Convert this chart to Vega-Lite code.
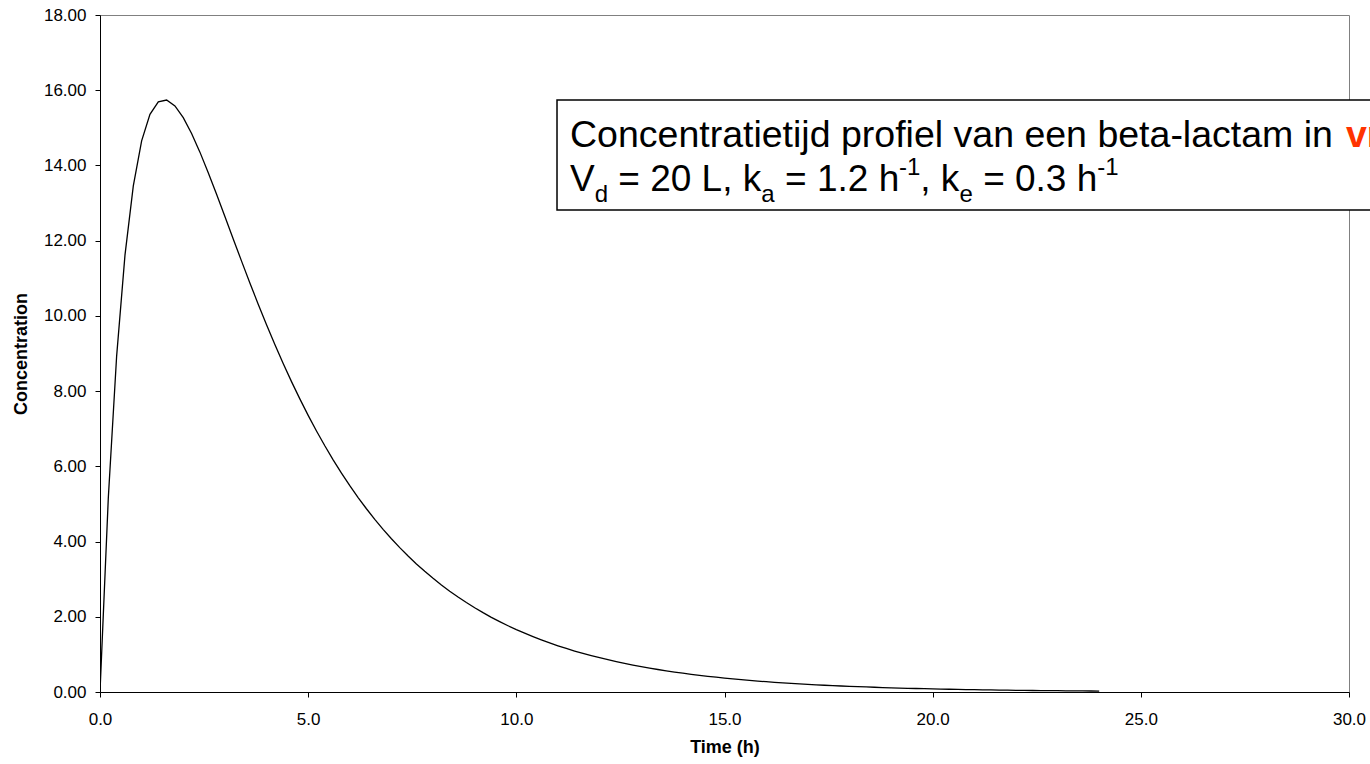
{
  "$schema": "https://vega.github.io/schema/vega-lite/v6.json",
  "width": 1249,
  "height": 677,
  "autosize": {"type": "none"},
  "padding": {"left": 100, "top": 15, "right": 21, "bottom": 72},
  "background": "white",
  "config": {
    "view": {"stroke": "#808080", "strokeWidth": 1},
    "font": "Liberation Sans",
    "axis": {
      "grid": false,
      "domainColor": "#000000",
      "domainWidth": 1,
      "tickColor": "#000000",
      "tickSize": 5,
      "labelColor": "#000000",
      "labelFont": "Liberation Sans",
      "labelFontSize": 17,
      "titleFont": "Liberation Sans",
      "titleFontSize": 18,
      "titleFontWeight": "bold",
      "titleColor": "#000000"
    }
  },
  "datasets": {
    "curve": [
      {"t": 0.0, "c": 0.0}, {"t": 0.2, "c": 5.171}, {"t": 0.4, "c": 8.938}, {"t": 0.6, "c": 11.617},
      {"t": 0.8, "c": 13.458}, {"t": 1.0, "c": 14.654}, {"t": 1.2, "c": 15.358}, {"t": 1.4, "c": 15.689},
      {"t": 1.6, "c": 15.739}, {"t": 1.8, "c": 15.581}, {"t": 2.0, "c": 15.270}, {"t": 2.2, "c": 14.850},
      {"t": 2.4, "c": 14.354}, {"t": 2.6, "c": 13.808}, {"t": 2.8, "c": 13.233}, {"t": 3.0, "c": 12.642},
      {"t": 3.2, "c": 12.047}, {"t": 3.4, "c": 11.456}, {"t": 3.6, "c": 10.877}, {"t": 3.8, "c": 10.312},
      {"t": 4.0, "c": 9.765}, {"t": 4.2, "c": 9.239}, {"t": 4.4, "c": 8.735}, {"t": 4.6, "c": 8.252},
      {"t": 4.8, "c": 7.793}, {"t": 5.0, "c": 7.355}, {"t": 5.2, "c": 6.940}, {"t": 5.4, "c": 6.546},
      {"t": 5.6, "c": 6.172}, {"t": 5.8, "c": 5.819}, {"t": 6.0, "c": 5.485}, {"t": 6.2, "c": 5.170},
      {"t": 6.4, "c": 4.872}, {"t": 6.6, "c": 4.590}, {"t": 6.8, "c": 4.325}, {"t": 7.0, "c": 4.074},
      {"t": 7.2, "c": 3.838}, {"t": 7.4, "c": 3.616}, {"t": 7.6, "c": 3.406}, {"t": 7.8, "c": 3.208},
      {"t": 8.0, "c": 3.022}, {"t": 8.2, "c": 2.846}, {"t": 8.4, "c": 2.681}, {"t": 8.6, "c": 2.525},
      {"t": 8.8, "c": 2.378}, {"t": 9.0, "c": 2.240}, {"t": 9.2, "c": 2.109}, {"t": 9.4, "c": 1.986},
      {"t": 9.6, "c": 1.871}, {"t": 9.8, "c": 1.762}, {"t": 10.0, "c": 1.659}, {"t": 10.2, "c": 1.563},
      {"t": 10.4, "c": 1.472}, {"t": 10.6, "c": 1.386}, {"t": 10.8, "c": 1.305}, {"t": 11.0, "c": 1.229},
      {"t": 11.2, "c": 1.158}, {"t": 11.4, "c": 1.090}, {"t": 11.6, "c": 1.027}, {"t": 11.8, "c": 0.967},
      {"t": 12.0, "c": 0.911}, {"t": 12.2, "c": 0.858}, {"t": 12.4, "c": 0.808}, {"t": 12.6, "c": 0.761},
      {"t": 12.8, "c": 0.716}, {"t": 13.0, "c": 0.675}, {"t": 13.2, "c": 0.635}, {"t": 13.4, "c": 0.598},
      {"t": 13.6, "c": 0.564}, {"t": 13.8, "c": 0.531}, {"t": 14.0, "c": 0.500}, {"t": 14.2, "c": 0.471},
      {"t": 14.4, "c": 0.443}, {"t": 14.6, "c": 0.418}, {"t": 14.8, "c": 0.393}, {"t": 15.0, "c": 0.370},
      {"t": 15.2, "c": 0.349}, {"t": 15.4, "c": 0.328}, {"t": 15.6, "c": 0.309}, {"t": 15.8, "c": 0.291},
      {"t": 16.0, "c": 0.274}, {"t": 16.2, "c": 0.258}, {"t": 16.4, "c": 0.243}, {"t": 16.6, "c": 0.229},
      {"t": 16.8, "c": 0.216}, {"t": 17.0, "c": 0.203}, {"t": 17.2, "c": 0.191}, {"t": 17.4, "c": 0.180},
      {"t": 17.6, "c": 0.170}, {"t": 17.8, "c": 0.160}, {"t": 18.0, "c": 0.151}, {"t": 18.2, "c": 0.142},
      {"t": 18.4, "c": 0.134}, {"t": 18.6, "c": 0.126}, {"t": 18.8, "c": 0.118}, {"t": 19.0, "c": 0.112},
      {"t": 19.2, "c": 0.105}, {"t": 19.4, "c": 0.099}, {"t": 19.6, "c": 0.093}, {"t": 19.8, "c": 0.088},
      {"t": 20.0, "c": 0.083}, {"t": 20.2, "c": 0.078}, {"t": 20.4, "c": 0.073}, {"t": 20.6, "c": 0.069},
      {"t": 20.8, "c": 0.065}, {"t": 21.0, "c": 0.061}, {"t": 21.2, "c": 0.058}, {"t": 21.4, "c": 0.054},
      {"t": 21.6, "c": 0.051}, {"t": 21.8, "c": 0.048}, {"t": 22.0, "c": 0.045}, {"t": 22.2, "c": 0.043},
      {"t": 22.4, "c": 0.040}, {"t": 22.6, "c": 0.038}, {"t": 22.8, "c": 0.036}, {"t": 23.0, "c": 0.034},
      {"t": 23.2, "c": 0.032}, {"t": 23.4, "c": 0.030}, {"t": 23.6, "c": 0.028}, {"t": 23.8, "c": 0.026},
      {"t": 24.0, "c": 0.025}
    ],
    "box": [{"x": 10.977, "x2": 32.0, "y": 15.74, "y2": 12.816}],
    "label": [
      {"x": 11.289, "y": 14.49, "text": "Concentratietijd profiel van een beta-lactam in ", "role": "big"},
      {"x": 29.928, "y": 14.49, "text": "vr", "role": "red"},
      {"x": 11.289, "y": 13.32, "text": "V", "role": "main"},
      {"x": 11.882, "y": 13.028, "text": "d", "role": "small"},
      {"x": 12.449, "y": 13.32, "text": "= 20 L, k", "role": "main"},
      {"x": 15.882, "y": 13.028, "text": "a", "role": "small"},
      {"x": 16.454, "y": 13.32, "text": "= 1.2 h", "role": "main"},
      {"x": 19.192, "y": 13.746, "text": "-1", "role": "small"},
      {"x": 19.703, "y": 13.32, "text": ", k", "role": "main"},
      {"x": 20.642, "y": 13.028, "text": "e", "role": "small"},
      {"x": 21.212, "y": 13.32, "text": "= 0.3 h", "role": "main"},
      {"x": 23.954, "y": 13.746, "text": "-1", "role": "small"}
    ]
  },
  "layer": [
    {
      "data": {"name": "curve"},
      "mark": {"type": "line", "color": "#000000", "strokeWidth": 1.3, "clip": true},
      "encoding": {
        "x": {
          "field": "t", "type": "quantitative",
          "scale": {"domain": [0, 30], "nice": false, "zero": false},
          "axis": {"values": [0, 5, 10, 15, 20, 25, 30], "format": ".1f", "title": "Time (h)", "labelPadding": 14, "titlePadding": 11, "labelFlush": false, "labelOverlap": false}
        },
        "y": {
          "field": "c", "type": "quantitative",
          "scale": {"domain": [0, 18], "nice": false},
          "axis": {"values": [0, 2, 4, 6, 8, 10, 12, 14, 16, 18], "format": ".2f", "title": "Concentration", "labelPadding": 9, "titlePadding": 13, "labelFlush": false, "labelOverlap": false}
        }
      }
    },
    {
      "data": {"name": "box"},
      "mark": {"type": "rect", "fill": "#ffffff", "stroke": "#000000", "strokeWidth": 1.5},
      "encoding": {
        "x": {"field": "x", "type": "quantitative"},
        "x2": {"field": "x2"},
        "y": {"field": "y", "type": "quantitative"},
        "y2": {"field": "y2"}
      }
    },
    {
      "data": {"name": "label"},
      "transform": [{"filter": "datum.role === 'big'"}],
      "mark": {"type": "text", "align": "left", "baseline": "alphabetic", "fontSize": 37.5, "font": "Liberation Sans", "color": "#000000"},
      "encoding": {
        "x": {"field": "x", "type": "quantitative"},
        "y": {"field": "y", "type": "quantitative"},
        "text": {"field": "text"}
      }
    },
    {
      "data": {"name": "label"},
      "transform": [{"filter": "datum.role === 'main'"}],
      "mark": {"type": "text", "align": "left", "baseline": "alphabetic", "fontSize": 37, "font": "Liberation Sans", "color": "#000000"},
      "encoding": {
        "x": {"field": "x", "type": "quantitative"},
        "y": {"field": "y", "type": "quantitative"},
        "text": {"field": "text"}
      }
    },
    {
      "data": {"name": "label"},
      "transform": [{"filter": "datum.role === 'small'"}],
      "mark": {"type": "text", "align": "left", "baseline": "alphabetic", "fontSize": 24, "font": "Liberation Sans", "color": "#000000"},
      "encoding": {
        "x": {"field": "x", "type": "quantitative"},
        "y": {"field": "y", "type": "quantitative"},
        "text": {"field": "text"}
      }
    },
    {
      "data": {"name": "label"},
      "transform": [{"filter": "datum.role === 'red'"}],
      "mark": {"type": "text", "align": "left", "baseline": "alphabetic", "fontSize": 37.5, "fontWeight": "bold", "font": "Liberation Sans", "color": "#ff3300"},
      "encoding": {
        "x": {"field": "x", "type": "quantitative"},
        "y": {"field": "y", "type": "quantitative"},
        "text": {"field": "text"}
      }
    }
  ]
}
